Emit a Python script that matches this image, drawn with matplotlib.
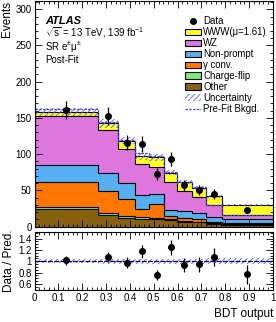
import numpy as np
import matplotlib
matplotlib.use("Agg")
import matplotlib.pyplot as plt
from matplotlib.patches import Patch
from matplotlib.lines import Line2D
from matplotlib.ticker import MultipleLocator, FuncFormatter

plt.rcParams['font.family'] = ['Liberation Sans', 'DejaVu Sans']
plt.rcParams['mathtext.fontset'] = 'custom'
plt.rcParams['mathtext.rm'] = 'Liberation Sans'
plt.rcParams['mathtext.it'] = 'Liberation Sans:italic'
plt.rcParams['hatch.linewidth'] = 0.6

# bin edges of the BDT output
edges = [0.0, 0.267, 0.351, 0.421, 0.481, 0.543, 0.599, 0.659, 0.718, 0.785, 1.0]

# post-fit yields per bin
other      = [24.0, 16.0, 12.4, 10.6, 10.0, 9.0, 7.0, 6.0, 4.0, 3.0]
chargeflip = [3.5, 2.5, 2.4, 2.4, 1.6, 1.5, 1.0, 1.0, 1.0, 0.5]
gammaconv  = [34.5, 31.0, 24.0, 12.0, 20.0, 4.0, 3.5, 3.0, 2.0, 2.0]
nonprompt  = [23.0, 24.0, 21.0, 19.0, 13.0, 9.0, 10.0, 9.0, 7.0, 4.5]
wz         = [68.0, 60.0, 48.0, 43.0, 38.0, 38.0, 28.0, 22.0, 16.0, 6.0]
www        = [5.0, 9.0, 11.0, 10.0, 13.0, 13.0, 12.0, 13.0, 12.0, 14.0]

data     = [161, 153, 116, 114, 73, 93, 57, 51, 45, 23]
prefit   = [162, 145, 120, 101, 97, 75, 62, 55, 30, 16]
rel_unc  = [0.035, 0.04, 0.04, 0.045, 0.045, 0.045, 0.045, 0.045, 0.05, 0.05]

labels = ['WWW(\u03bc=1.61)', 'WZ', 'Non-prompt', '\u03b3 conv.', 'Charge-flip', 'Other']
colors = ['#ffff22', '#dd77dd', '#55aff0', '#ff7700', '#77ee77', '#876010']

edges = np.array(edges)
centers = 0.5 * (edges[1:] + edges[:-1])
stack = [other, chargeflip, gammaconv, nonprompt, wz, www]
cum = np.cumsum(np.array(stack), axis=0)
total = cum[-1]
data = np.array(data, dtype=float)
unc = total * np.array(rel_unc)

fig = plt.figure(figsize=(2.76, 3.22), dpi=100)
ax1 = fig.add_axes([0.125, 0.296, 0.864, 0.700])
ax2 = fig.add_axes([0.125, 0.099, 0.864, 0.181])

# stacked histograms, drawn from top of the stack down
for i in range(len(stack) - 1, -1, -1):
    ax1.stairs(cum[i], edges, baseline=0, fill=True,
               facecolor=colors[len(stack) - 1 - i], edgecolor='none')
    ax1.stairs(cum[i], edges, baseline=None, color='black', lw=0.8)

ax1.stairs(total + unc, edges, baseline=total - unc, fill=True,
           facecolor='none', edgecolor='#5a5aff', hatch='//////', lw=0)
ax1.stairs(prefit, edges, baseline=None, color='#4040ff', lw=0.9, ls=(0, (2, 1)))
ax1.errorbar(centers, data, yerr=np.sqrt(data), fmt='o', color='black',
             ms=4, elinewidth=0.9, capsize=0)

ax1.set_xlim(0, 1)
ax1.set_ylim(0, 311)
ax1.set_ylabel('Events', loc='top', fontsize=8.5, labelpad=2)
ax1.yaxis.set_major_locator(MultipleLocator(50))
ax1.yaxis.set_minor_locator(MultipleLocator(10))

ax1.text(0.045, 0.914, 'ATLAS', transform=ax1.transAxes, fontsize=8,
         fontweight='bold', fontstyle='italic', va='center')
ax1.text(0.045, 0.861, r'$\sqrt{\mathrm{s}}$ = 13 TeV, 139 fb$^{-1}$',
         transform=ax1.transAxes, fontsize=7, va='center')
ax1.text(0.045, 0.797, r'SR e$^{\pm}\mathrm{\mu}^{\pm}$', transform=ax1.transAxes,
         fontsize=7, va='center')
ax1.text(0.045, 0.740, 'Post-Fit', transform=ax1.transAxes, fontsize=7, va='center')

handles = [Line2D([], [], marker='o', color='black', ls='none', ms=4)]
for lab, col in zip(labels, colors):
    handles.append(Patch(facecolor=col, edgecolor='black', lw=0.8))
handles.append(Patch(facecolor='none', edgecolor='#5a5aff', hatch='//////', lw=0))
handles.append(Line2D([], [], color='#4040ff', lw=0.9, ls=(0, (2, 1))))
leg = ax1.legend(handles, ['Data'] + labels + ['Uncertainty', 'Pre-Fit Bkgd.'],
                 loc='upper left', bbox_to_anchor=(0.615, 0.95), frameon=False,
                 fontsize=6.9, handlelength=1.65, handleheight=0.7,
                 handletextpad=0.25, labelspacing=0.1, borderaxespad=0)

# ratio panel
ratio = data / total
ratio_err = np.sqrt(data) / total
ax2.stairs(1 + np.array(rel_unc), edges, baseline=1 - np.array(rel_unc), fill=True,
           facecolor='none', edgecolor='#5a5aff', hatch='//////', lw=0)
ax2.axhline(1, color='#000066', lw=0.9, ls=(0, (4, 1)))
ax2.errorbar(centers, ratio, yerr=ratio_err, fmt='o', color='black',
             ms=4, elinewidth=0.9, capsize=0)
ax2.set_xlim(0, 1)
ax2.set_ylim(0.49, 1.52)
ax2.set_yticks([0.6, 0.8, 1.0, 1.2, 1.4])
ax2.yaxis.set_minor_locator(MultipleLocator(0.05))
ax2.set_ylabel('Data / Pred.', fontsize=8.5, labelpad=2)
ax2.set_xlabel('BDT output', loc='right', fontsize=8.5, labelpad=4)

fmt = FuncFormatter(lambda v, p: '%g' % round(v, 2))
ax2.xaxis.set_major_formatter(fmt)
ax2.yaxis.set_major_formatter(fmt)

for ax in (ax1, ax2):
    ax.xaxis.set_major_locator(MultipleLocator(0.1))
    ax.xaxis.set_minor_locator(MultipleLocator(0.02))
    ax.tick_params(which='both', direction='in', top=True, right=True, labelsize=7, pad=2)
    ax.tick_params(which='major', length=5, width=0.6)
    ax.tick_params(which='minor', length=2.5, width=0.6)
    for s in ax.spines.values():
        s.set_linewidth(0.8)
ax1.tick_params(labelbottom=False)

fig.savefig('out.png', dpi=100)
